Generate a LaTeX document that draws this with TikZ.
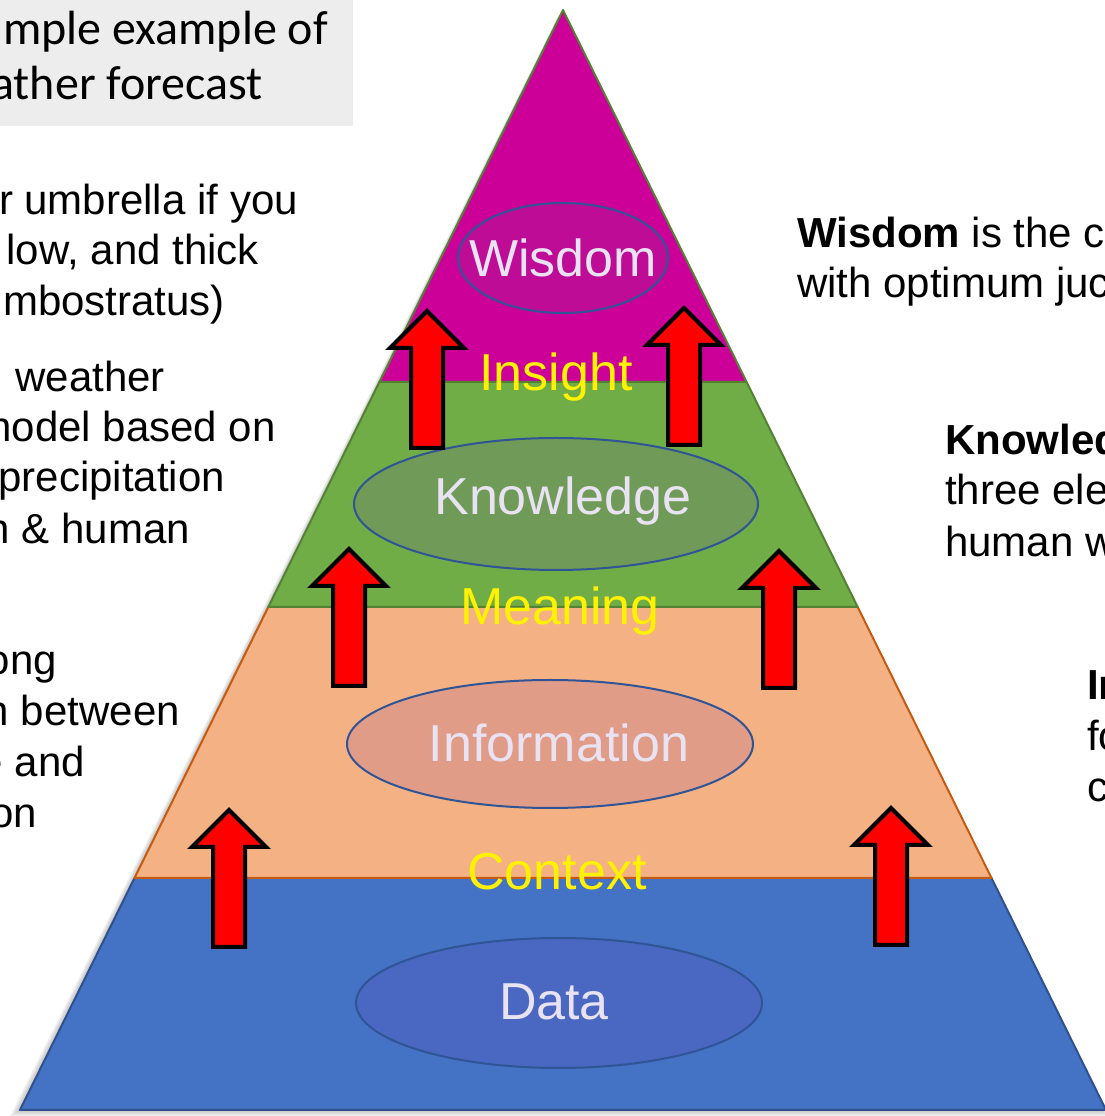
\documentclass[tikz,border=0pt]{standalone}
\usepackage{fontspec}
\setmainfont{Liberation Sans}
\newfontfamily\calibrifont{Carlito}
\usetikzlibrary{shapes.geometric}

\definecolor{titlegray}{HTML}{EDEDED}
\definecolor{wisdomfill}{HTML}{CC0099}
\definecolor{knowfill}{HTML}{70AD47}
\definecolor{infofill}{HTML}{F4B183}
\definecolor{datafill}{HTML}{4472C4}
\definecolor{greenedge}{HTML}{548235}
\definecolor{orangeedge}{HTML}{C55A11}
\definecolor{blueedge}{HTML}{2F528F}
\definecolor{ellborder}{HTML}{2F5597}
\definecolor{elltext}{HTML}{E8E2F2}
\definecolor{wisdomell}{HTML}{BE0C96}
\definecolor{knowell}{HTML}{6F9A57}
\definecolor{infoell}{HTML}{E09C87}
\definecolor{dataell}{HTML}{4A67C1}

\begin{document}
\begin{tikzpicture}[x=1pt,y=1pt,
    band/.style={line width=2pt, line join=round},
    levelell/.style={ellipse, draw=ellborder, line width=2pt, inner sep=0pt},
    leveltext/.style={text=elltext, inner sep=0pt, font=\fontsize{52}{60}\selectfont},
    steplabel/.style={text=yellow, font=\fontsize{52}{60}\selectfont, inner sep=0pt, anchor=base},
    lefttext/.style={font=\fontsize{42}{50}\selectfont, inner sep=0pt, anchor=base east},
    righttext/.style={font=\fontsize{42}{50}\selectfont, inner sep=0pt, anchor=base west},
    titletext/.style={font=\calibrifont\fontsize{48}{56}\selectfont, inner sep=0pt, anchor=base east},
    uparrow/.pic={\draw[line width=4pt, fill=red, line join=miter]
      (-16,0) -- (-16,100) -- (-37,100) -- (0,137) -- (37,100) -- (16,100) -- (16,0) -- cycle;}
  ]
  \useasboundingbox (0,0) rectangle (1104,1116);

  % title box, top left
  \fill[titlegray] (0,990) rectangle (353,1116);
  \node[titletext] (title1) at (328,1071) {mple example of};
  \node[titletext] (title2) at (263,1016) {ather forecast};

  % soft shadow under the pyramid
  \foreach \s in {2,4,...,10}
    \fill[black, opacity=0.05] (20-\s,6-0.6*\s) -- (563-0.5*\s,1106-0.6*\s) -- (1106,6-0.6*\s) -- cycle;

  % pyramid bands
  \filldraw[band, fill=datafill, draw=blueedge] (20,6) -- (1106,6) -- (991.5,238) -- (134.5,238) -- cycle;
  \filldraw[band, fill=infofill, draw=orangeedge] (134.5,238) -- (991.5,238) -- (857.7,509) -- (268.3,509) -- cycle;
  \filldraw[band, fill=knowfill, draw=greenedge] (268.3,509) -- (857.7,509) -- (746.6,734) -- (379.4,734) -- cycle;
  \filldraw[band, fill=wisdomfill, draw=greenedge] (379.4,734) -- (746.6,734) -- (563,1106) -- cycle;

  % levels
  \node[levelell, fill=wisdomell, minimum width=210, minimum height=110,
    label={[leveltext]center:Wisdom}] (wisdom) at (563,858) {};
  \node[levelell, fill=knowell, minimum width=404, minimum height=132,
    label={[leveltext, xshift=7, yshift=3]center:Knowledge}] (knowledge) at (556,612) {};
  \node[levelell, fill=infoell, minimum width=406, minimum height=128,
    label={[leveltext, xshift=9, yshift=1]center:Information}] (information) at (550,372) {};
  \node[levelell, fill=dataell, minimum width=406, minimum height=130,
    label={[leveltext, xshift=-5, yshift=1]center:Data}] (data) at (559,113) {};

  % arrows
  \pic (arrTL) at (427,668) {uparrow};
  \pic (arrTR) at (684,671) {uparrow};
  \pic (arrML) at (349,430) {uparrow};
  \pic (arrMR) at (779,428) {uparrow};
  \pic (arrBL) at (229,169) {uparrow};
  \pic (arrBR) at (891,171) {uparrow};

  % transitions
  \node[steplabel] (insight) at (556,725) {Insight};
  \node[steplabel] (meaning) at (560,491) {Meaning};
  \node[steplabel] (context) at (557,226) {Context};

  % left side text
  \node[lefttext] (l1) at (298,901) {r umbrella if you};
  \node[lefttext] (l2) at (259,851) {low, and thick};
  \node[lefttext] (l3) at (225,800) {mbostratus)};
  \node[lefttext] (l4) at (165,724) {weather};
  \node[lefttext] (l5) at (276,674) {nodel based on};
  \node[lefttext] (l6) at (225,624) {precipitation};
  \node[lefttext] (l7) at (190,572) {n \& human};
  \node[lefttext] (l8) at (57,441) {ong};
  \node[lefttext] (l9) at (180,390) {n between};
  \node[lefttext] (l10) at (85,339) {e and};
  \node[lefttext] (l11) at (37,288) {on};

  % right side text
  \node[righttext] (r1) at (797,868) {\textbf{Wisdom} is the c};
  \node[righttext] (r2) at (797,818) {with optimum juc};
  \node[righttext] (r3) at (945,661) {\textbf{Knowled}};
  \node[righttext] (r4) at (945,611) {three ele};
  \node[righttext] (r5) at (945,559) {human w};
  \node[righttext] (r6) at (1087,416) {\textbf{In}};
  \node[righttext] (r7) at (1087,365) {fo};
  \node[righttext] (r8) at (1087,314) {c};
\end{tikzpicture}
\end{document}
